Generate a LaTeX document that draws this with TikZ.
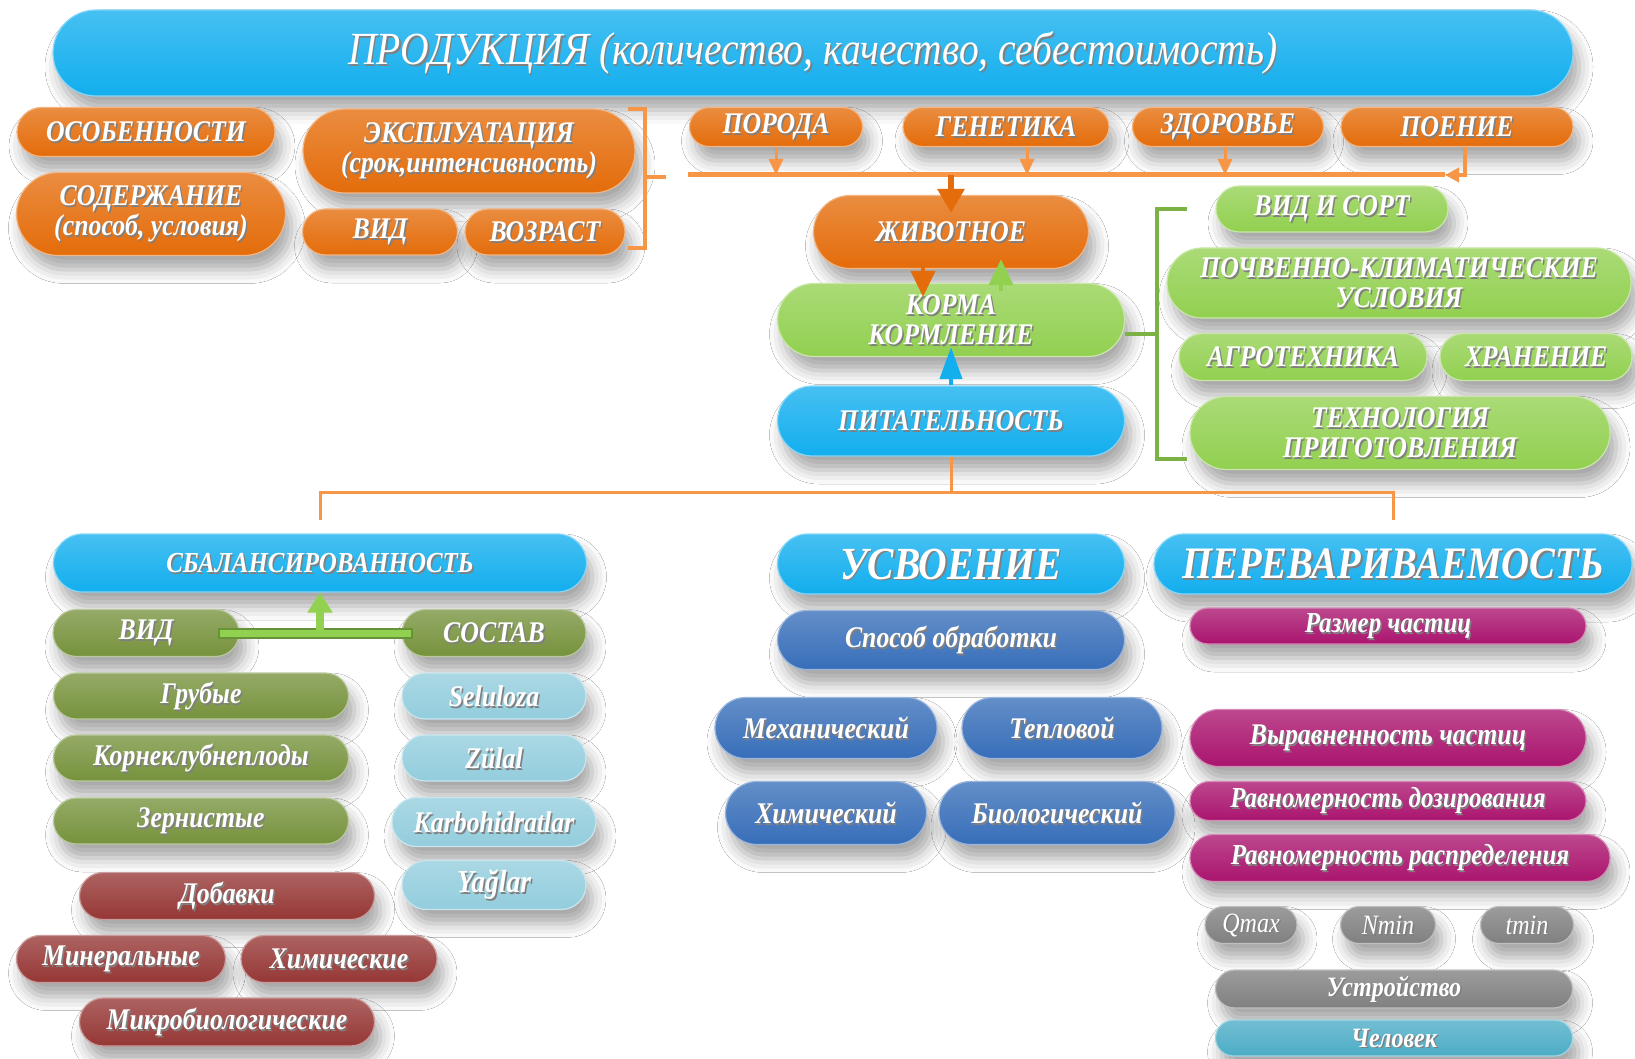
\documentclass[tikz,border=0pt]{standalone}
\usepackage{fontspec}
\setmainfont{Liberation Serif}[FakeStretch=0.86]
\usetikzlibrary{shapes.misc,arrows.meta,shadows.blur}

\definecolor{cyanfig}{RGB}{18,174,238}
\definecolor{orangefig}{RGB}{228,108,10}
\definecolor{orangeline}{RGB}{247,150,70}
\definecolor{greenfig}{RGB}{146,208,80}
\definecolor{olivefig}{RGB}{118,146,60}
\definecolor{skyfig}{RGB}{147,205,221}
\definecolor{redfig}{RGB}{149,55,53}
\definecolor{bluefig}{RGB}{55,110,185}
\definecolor{plumfig}{RGB}{170,20,110}
\definecolor{grayfig}{RGB}{128,128,128}
\definecolor{tealfig}{RGB}{75,172,198}

% white label with a soft grey copy behind it
\newcommand\shtext[1]{\makebox[0pt][l]{\hspace{1.5pt}\raisebox{-1.8pt}[0pt][0pt]{\textcolor{black!50}{#1}}}#1}

\begin{document}
\begin{tikzpicture}[x=1pt, y=-1pt,
  pill/.style={rounded rectangle, top color=#1!78!white, bottom color=#1, draw=#1!50!white,
    line width=1.2pt, text=white, inner sep=1pt,
    blur shadow={shadow xshift=6pt, shadow yshift=-14pt, shadow opacity=35, shadow blur radius=14pt}},
  lbl/.style={font=\fontsize{#1}{#1}\selectfont\bfseries\itshape},
  wh/.style 2 args={minimum width=#1pt, minimum height=#2pt},
  bus/.style={draw=orangeline, line width=5pt},
  tree/.style={draw=orangeline, line width=3pt},
  brace/.style={draw=#1, line width=4pt}]

\fill[white] (0,0) rectangle (1635,1059);
\useasboundingbox (0,0) rectangle (1635,1059);

% product banner
\node[pill=cyanfig, wh={1522}{86}, font=\fontsize{46}{46}\selectfont\itshape] (prod) at (813,53)
  {\shtext{ПРОДУКЦИЯ (количество, качество, себестоимость)}};

% animal factors
\node[pill=orangefig, wh={260}{49}, lbl=30] (osob) at (146,132) {\shtext{ОСОБЕННОСТИ}};
\node[pill=orangefig, wh={271}{83}, lbl=30, align=center] (sod) at (151,214)
  {\shtext{СОДЕРЖАНИЕ}\\\shtext{(способ, условия)}};
\node[pill=orangefig, wh={334}{84}, lbl=30, align=center] (expl) at (469,151)
  {\shtext{ЭКСПЛУАТАЦИЯ}\\\shtext{(срок,интенсивность)}};
\node[pill=orangefig, wh={157}{46}, lbl=30] (vid) at (380,232) {\shtext{ВИД}};
\node[pill=orangefig, wh={162}{46}, lbl=30] (age) at (545,232) {\shtext{ВОЗРАСТ}};
\node[pill=orangefig, wh={175}{39}, lbl=30] (breed) at (776,127) {\shtext{ПОРОДА}};
\node[pill=orangefig, wh={208}{39}, lbl=30] (gen) at (1006,127) {\shtext{ГЕНЕТИКА}};
\node[pill=orangefig, wh={193}{39}, lbl=30] (health) at (1228,127) {\shtext{ЗДОРОВЬЕ}};
\node[pill=orangefig, wh={234}{39}, lbl=30] (water) at (1457,127) {\shtext{ПОЕНИЕ}};

% centre column
\node[pill=orangefig, wh={277}{73}, lbl=30] (animal) at (951,232) {\shtext{ЖИВОТНОЕ}};
\node[pill=greenfig, wh={349}{73}, lbl=30, align=center] (feed) at (951,320)
  {\shtext{КОРМА}\\\shtext{КОРМЛЕНИЕ}};
\node[pill=cyanfig, wh={349}{70}, lbl=30] (pit) at (951,421) {\shtext{ПИТАТЕЛЬНОСТЬ}};

% feed factors
\node[pill=greenfig, wh={234}{46}, lbl=30] (sort) at (1332,209) {\shtext{ВИД И СОРТ}};
\node[pill=greenfig, wh={466}{70}, lbl=30, align=center] (soil) at (1399,283)
  {\shtext{ПОЧВЕННО-КЛИМАТИЧЕСКИЕ}\\\shtext{УСЛОВИЯ}};
\node[pill=greenfig, wh={250}{47}, lbl=30] (agro) at (1303,357) {\shtext{АГРОТЕХНИКА}};
\node[pill=greenfig, wh={194}{47}, lbl=30] (store) at (1536,357) {\shtext{ХРАНЕНИЕ}};
\node[pill=greenfig, wh={422}{73}, lbl=30, align=center] (tech) at (1400,433)
  {\shtext{ТЕХНОЛОГИЯ}\\\shtext{ПРИГОТОВЛЕНИЯ}};

% balance
\node[pill=cyanfig, wh={535}{58}, lbl=29] (balance) at (320,563) {\shtext{СБАЛАНСИРОВАННОСТЬ}};
\node[pill=olivefig, wh={188}{47}, lbl=30] (vid2) at (146,633) {\shtext{ВИД}};
\node[pill=olivefig, wh={186}{47}, lbl=30] (sostav) at (494,633) {\shtext{СОСТАВ}};
\node[pill=olivefig, wh={297}{46}, lbl=30] (rough) at (201,696) {\shtext{Грубые}};
\node[pill=olivefig, wh={297}{46}, lbl=30] (roots) at (201,758) {\shtext{Корнеклубнеплоды}};
\node[pill=olivefig, wh={297}{46}, lbl=30] (grain) at (201,821) {\shtext{Зернистые}};
\node[pill=skyfig, wh={186}{46}, lbl=30] (cell) at (494,696) {\shtext{Seluloza}};
\node[pill=skyfig, wh={186}{46}, lbl=30] (prot) at (494,758) {\shtext{Zülal}};
\node[pill=skyfig, wh={206}{49}, lbl=30] (carb) at (494,822) {\shtext{Karbohidratlar}};
\node[pill=skyfig, wh={186}{49}, lbl=32] (fat) at (494,885) {\shtext{Yağlar}};
\node[pill=redfig, wh={297}{47}, lbl=30] (add) at (227,896) {\shtext{Добавки}};
\node[pill=redfig, wh={211}{47}, lbl=30] (mineral) at (121,959) {\shtext{Минеральные}};
\node[pill=redfig, wh={198}{47}, lbl=30] (chem) at (339,959) {\shtext{Химические}};
\node[pill=redfig, wh={297}{48}, lbl=30] (micro) at (227,1022) {\shtext{Микробиологические}};

% uptake
\node[pill=cyanfig, wh={349}{60}, lbl=46] (uptake) at (951,564) {\shtext{УСВОЕНИЕ}};
\node[pill=bluefig, wh={349}{59}, lbl=30] (proc) at (951,640) {\shtext{Способ обработки}};
\node[pill=bluefig, wh={224}{61}, lbl=30] (mech) at (826,728) {\shtext{Механический}};
\node[pill=bluefig, wh={202}{61}, lbl=30] (heat) at (1062,728) {\shtext{Тепловой}};
\node[pill=bluefig, wh={203}{63}, lbl=30] (chemproc) at (826,813) {\shtext{Химический}};
\node[pill=bluefig, wh={238}{63}, lbl=30] (bio) at (1057,813) {\shtext{Биологический}};

% digestibility
\node[pill=cyanfig, wh={480}{60}, lbl=45] (digest) at (1393,564) {\shtext{ПЕРЕВАРИВАЕМОСТЬ}};
\node[pill=plumfig, wh={398}{36}, lbl=29] (size) at (1388,626) {\shtext{Размер частиц}};
\node[pill=plumfig, wh={398}{57}, lbl=30] (even) at (1388,738) {\shtext{Выравненность частиц}};
\node[pill=plumfig, wh={398}{39}, lbl=29] (dose) at (1388,801) {\shtext{Равномерность дозирования}};
\node[pill=plumfig, wh={422}{47}, lbl=29] (spread) at (1400,858) {\shtext{Равномерность распределения}};
\node[pill=grayfig, wh={94}{37}, font=\fontsize{28}{28}\selectfont\itshape] (qmax) at (1251,925) {\shtext{Qmax}};
\node[pill=grayfig, wh={97}{37}, font=\fontsize{28}{28}\selectfont\itshape] (nmin) at (1388,925) {\shtext{Nmin}};
\node[pill=grayfig, wh={95}{37}, font=\fontsize{28}{28}\selectfont\itshape] (tmin) at (1527,925) {\shtext{tmin}};
\node[pill=grayfig, wh={359}{38}, lbl=28] (device) at (1394,989) {\shtext{Устройство}};
\node[pill=tealfig, wh={359}{36}, lbl=28] (human) at (1394,1038) {\shtext{Человек}};

% orange bus into the animal
\coordinate (busL) at (688,175);
\coordinate (busR) at (1445,175);
\draw[bus] (busL) -- (busR);
\draw[orangeline, line width=3pt, -{Triangle[length=16pt,width=14pt]}] (breed.south) -- (breed.south |- busL);
\draw[orangeline, line width=3pt, -{Triangle[length=16pt,width=14pt]}] ([xshift=21pt]gen.south) -- ([xshift=21pt]gen.south |- busL);
\draw[orangeline, line width=3pt, -{Triangle[length=16pt,width=14pt]}] ([xshift=-3pt]health.south) -- ([xshift=-3pt]health.south |- busL);
\draw[orangeline, line width=4pt, -{Triangle[length=14pt,width=14pt]}] ([xshift=8pt]water.south) |- (busR);
\draw[orangefig, line width=6pt, -{Triangle[length=24pt,width=26pt]}] (animal.north |- busL) -- ([yshift=-18pt]animal.north);

% bracket round the left group
\draw[brace=orangeline] (628,109) -- (645,109) -- (645,248) -- (628,248) (645,177) -- (666,177);

% animal, feed and nutrition links
\draw[orangefig, line width=4pt, -{Triangle[length=26pt,width=24pt]}] ([xshift=-28pt,yshift=8pt]animal.south) -- ([xshift=-28pt,yshift=-14pt]feed.north);
\draw[greenfig, line width=4pt, -{Triangle[length=26pt,width=24pt]}] ([xshift=50pt,yshift=-8pt]feed.north) -- ([xshift=50pt,yshift=10pt]animal.south);
\draw[cyanfig, line width=4pt, -{Triangle[length=32pt,width=22pt]}] (pit.north) -- ([yshift=10pt]feed.south);

% green bracket of feed factors
\draw[brace=greenfig!85!black] ([yshift=-14pt]feed.east) -- ++(31,0);
\draw[brace=greenfig!85!black] (1187,209) -- (1157,209) -- (1157,459) -- (1187,459);

% split of nutrition
\coordinate (split) at (951,492);
\draw[tree] (pit.south) -- (split);
\draw[tree] ([yshift=13pt]balance.north) |- (split) -| ([yshift=13pt]digest.north);

% kind and composition joined up to balance
\draw[greenfig!70!black, line width=11pt] ([xshift=-22pt]vid2.east) -- ([xshift=12pt]sostav.west);
\draw[greenfig, line width=7pt] ([xshift=-20pt]vid2.east) -- ([xshift=10pt]sostav.west);
\draw[greenfig, line width=8pt, -{Triangle[length=20pt,width=24pt]}] (balance.south |- vid2.east) -- (balance.south);
\end{tikzpicture}
\end{document}
